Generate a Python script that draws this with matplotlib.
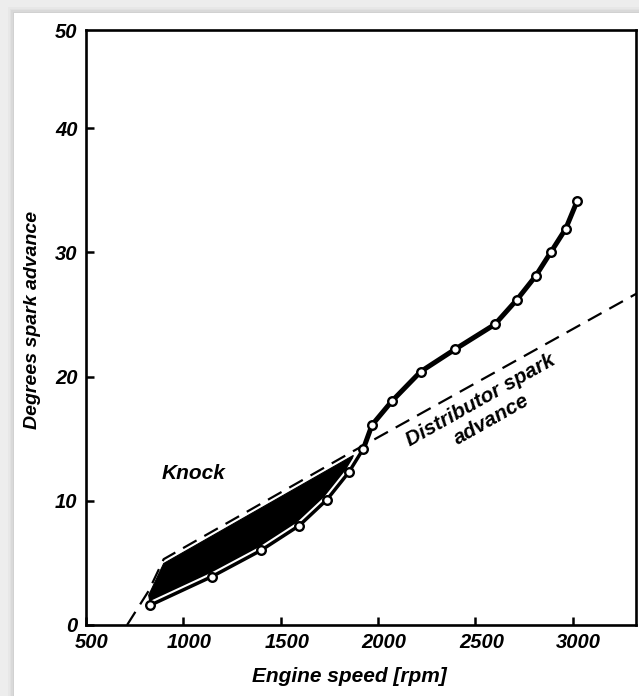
import numpy as np
import matplotlib
matplotlib.use("Agg")
import matplotlib.pyplot as plt
from matplotlib.patches import Rectangle, Polygon
import matplotlib.patheffects as pe
import matplotlib.transforms as mtransforms

# ---- data ----
rpm_measured = [831, 1147, 1398, 1595, 1738, 1850, 1925, 1969, 2070,
                2219, 2396, 2600, 2714, 2810, 2887, 2964, 3022]
advance_measured = [1.6, 3.9, 6.0, 8.0, 10.1, 12.3, 14.2, 16.1, 18.0,
                    20.4, 22.2, 24.2, 26.2, 28.1, 30.0, 31.9, 34.1]

rpm_distributor = [711, 822, 899, 1873, 3330]
advance_distributor = [0.0, 2.75, 5.3, 14.0, 26.7]

knock_rpm = [822, 1873]          # extent of the black knock region

x_ticks = [500, 1000, 1500, 2000, 2500, 3000]
x_tick_labels = ["500", "1000", "1500", "2000", "2500", "3000"]
y_ticks = [0, 10, 20, 30, 40, 47.9]
y_tick_labels = ["0", "10", "20", "30", "40", "50"]

x_limits = [500, 3325]
y_limits = [0, 47.9]

# ---- figure ----
W, H = 639, 696
fig = plt.figure(figsize=(W / 100, H / 100), dpi=100)
fig.patch.set_facecolor("#ededed")

# card with soft shadow
for i, a in enumerate([0.025, 0.025, 0.03, 0.035]):
    off = 6 - 1.5 * i
    fig.add_artist(Rectangle(((14 - off) / W, 0), 1, (H - 13 + off) / H,
                             transform=fig.transFigure, facecolor="black",
                             edgecolor="none", alpha=a, zorder=0))
fig.add_artist(Rectangle((14 / W, 0), 1, (H - 13) / H, transform=fig.transFigure,
                         facecolor="white", edgecolor="none", zorder=0.5))

ax = fig.add_axes([86 / W, (H - 625) / H, 550 / W, (625 - 30) / H])
ax.set_facecolor("white")
ax.set_zorder(1)

font = dict(family=["Liberation Sans", "DejaVu Sans"], weight="bold", style="italic")

# knock region (between distributor line and measured curve)
top_x = [knock_rpm[0]] + [x for x in rpm_distributor if knock_rpm[0] < x < knock_rpm[1]] + [knock_rpm[1]]
top_y = list(np.interp(top_x, rpm_distributor, advance_distributor) - 0.35)
bot = [(x, y) for x, y in zip(rpm_measured, advance_measured) if x < knock_rpm[1]]
bot = bot[::-1]
verts = list(zip(top_x, top_y)) + bot
ax.add_patch(Polygon(verts, closed=True, facecolor="black", edgecolor="black",
                     linewidth=0.8, zorder=2))

# distributor spark advance (dashed)
ax.plot(rpm_distributor, advance_distributor, color="black", linewidth=1.6,
        dashes=(7, 4), zorder=3, solid_capstyle="butt")

# measured curve: thinner part inside the knock band, thicker above it
split = rpm_measured.index(1925)
halo = lambda w: [pe.Stroke(linewidth=w, foreground="white"), pe.Normal()]
ax.plot(rpm_measured[:split + 1], advance_measured[:split + 1], color="black",
        linewidth=2.5, zorder=4, solid_joinstyle="round", solid_capstyle="round",
        path_effects=halo(5.5))
ax.plot(rpm_measured[split:], advance_measured[split:], color="black",
        linewidth=3.6, zorder=4, solid_joinstyle="round", solid_capstyle="round",
        path_effects=halo(5.0))
ax.plot(rpm_measured, advance_measured, linestyle="none", marker="o", markersize=6.2,
        markerfacecolor="white", markeredgecolor="black", markeredgewidth=1.7, zorder=5)

ax.set_xlim(x_limits)
ax.set_ylim(y_limits)

ax.set_xticks(x_ticks)
ax.set_xticklabels(x_tick_labels)
ax.set_yticks(y_ticks)
ax.set_yticklabels(y_tick_labels)

ax.tick_params(axis="both", direction="in", length=6, width=1.8, color="black",
               labelsize=14.5, pad=6)
for lab in ax.get_xticklabels() + ax.get_yticklabels():
    lab.set_fontfamily(font["family"])
    lab.set_fontweight("bold")
    lab.set_fontstyle("italic")
shift = mtransforms.ScaledTranslation(6 / 100, 0, fig.dpi_scale_trans)
for lab in ax.get_xticklabels():
    lab.set_transform(lab.get_transform() + shift)
ax.yaxis.get_major_ticks()[-1].tick1line.set_visible(False)

for s in ax.spines.values():
    s.set_linewidth(1.9)
    s.set_color("black")

ax.set_xlabel("Engine speed [rpm]", fontsize=15, **font)
ax.xaxis.set_label_coords((349 - 86) / 550, (625 - 667) / 595)
ax.set_ylabel("Degrees spark advance", fontsize=14, **font)
ax.yaxis.set_label_coords((41 - 86) / 550, (625 - 320) / 595)

ax.text(1051, 12.2, "Knock", fontsize=15, ha="center", va="center", zorder=6, **font)
ax.text(2554, 17.3, "Distributor spark\nadvance", fontsize=15, ha="center", va="center",
        rotation=29.5, multialignment="center", linespacing=1.2, zorder=6, **font)

fig.savefig("out.png", dpi=100, facecolor=fig.get_facecolor())
